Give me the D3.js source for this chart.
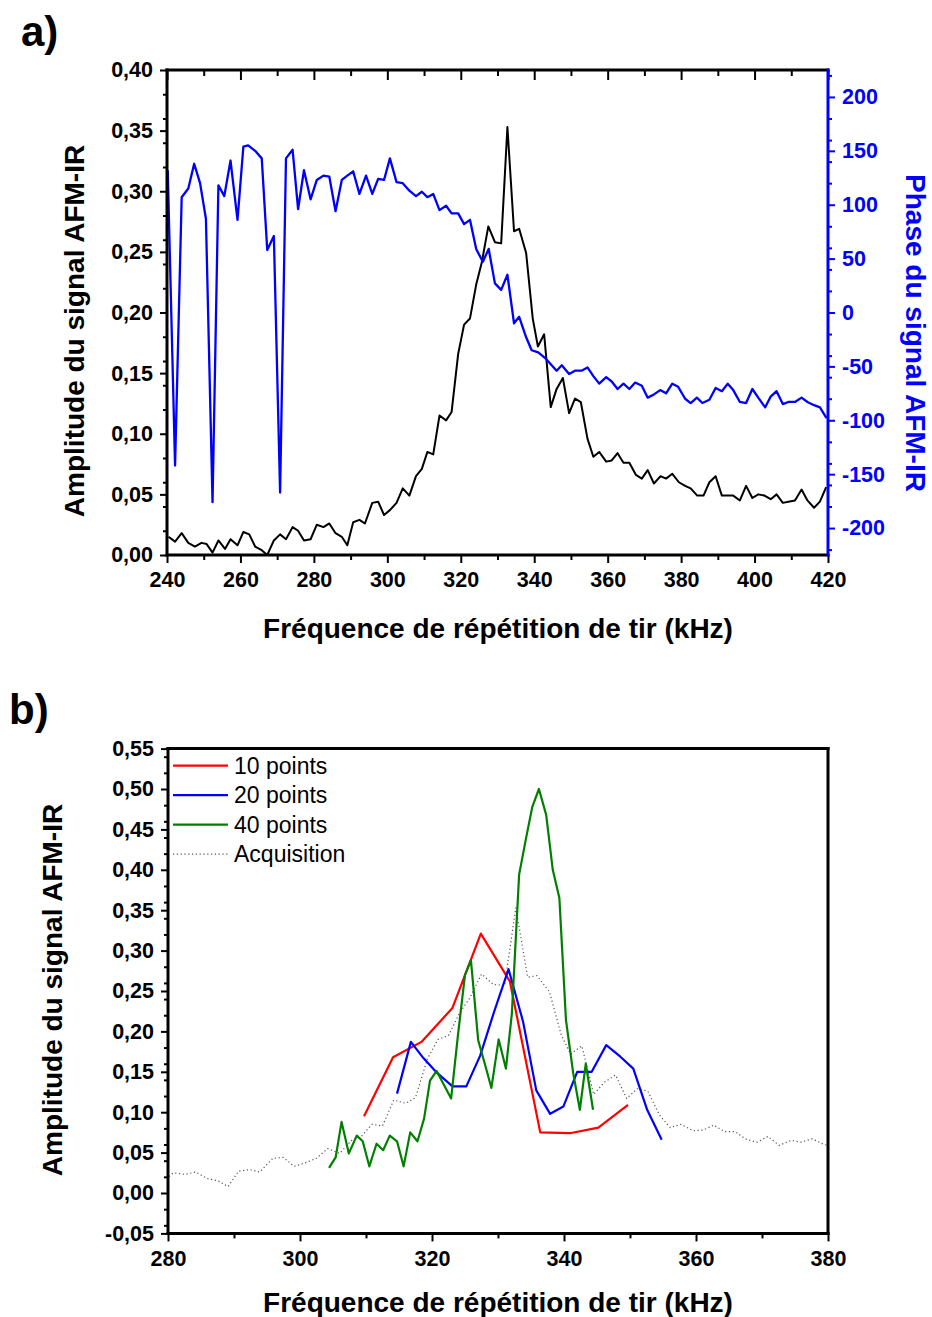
<!DOCTYPE html>
<html>
<head>
<meta charset="utf-8">
<script src="https://cdn.jsdelivr.net/npm/d3@7"></script>
<style>
  body { margin: 0; background: #fff; }
  svg { display: block; }
</style>
</head>
<body>
<div id="chart"></div>
<script>
// panel a : amplitude (black) and phase (blue) vs frequency, kHz
const amplitudeA = [
  [240.4, 0.015], [242.2, 0.011], [244.0, 0.018], [245.8, 0.010], [247.6, 0.007], [249.4, 0.010],
  [250.8, 0.009], [252.4, 0.002], [254.0, 0.012], [255.8, 0.005], [257.3, 0.013], [259.2, 0.008],
  [260.8, 0.019], [262.4, 0.017], [264.0, 0.007], [265.8, 0.004], [267.3, 0.000], [269.1, 0.012],
  [270.8, 0.017], [272.4, 0.013], [274.2, 0.023], [275.7, 0.020], [277.3, 0.012], [279.1, 0.013],
  [280.8, 0.025], [282.6, 0.023], [284.2, 0.026], [285.9, 0.018], [287.6, 0.015], [289.1, 0.008],
  [290.7, 0.027], [292.4, 0.029], [293.9, 0.026], [295.9, 0.043], [297.5, 0.044], [299.1, 0.033],
  [300.7, 0.037], [302.5, 0.043], [304.2, 0.055], [306.0, 0.049], [307.8, 0.065], [309.4, 0.071],
  [310.9, 0.085], [312.5, 0.083], [314.2, 0.115], [316.0, 0.111], [317.5, 0.118], [319.3, 0.166],
  [320.9, 0.190], [322.5, 0.195], [324.2, 0.223], [325.7, 0.241], [327.5, 0.271], [329.3, 0.258],
  [331.0, 0.257], [332.7, 0.353], [334.5, 0.267], [335.9, 0.269], [337.8, 0.249], [339.6, 0.195],
  [341.0, 0.172], [342.7, 0.182], [344.5, 0.122], [346.1, 0.137], [347.8, 0.146], [349.5, 0.117],
  [351.1, 0.129], [352.7, 0.126], [354.5, 0.096], [356.1, 0.081], [357.7, 0.085], [359.6, 0.077],
  [361.1, 0.078], [362.7, 0.084], [364.3, 0.076], [365.9, 0.076], [367.7, 0.066], [369.3, 0.063],
  [370.9, 0.070], [372.6, 0.059], [374.4, 0.065], [375.9, 0.063], [377.6, 0.067], [379.4, 0.060],
  [381.1, 0.057], [382.6, 0.055], [384.4, 0.049], [386.1, 0.049], [387.7, 0.060], [389.4, 0.065],
  [391.1, 0.049], [392.6, 0.049], [394.2, 0.049], [396.0, 0.045], [397.7, 0.057], [399.4, 0.047],
  [401.0, 0.050], [402.7, 0.049], [404.4, 0.046], [406.0, 0.050], [407.7, 0.043], [409.2, 0.044],
  [411.0, 0.045], [412.8, 0.054], [414.4, 0.045], [416.2, 0.039], [417.8, 0.044], [419.5, 0.056]
]

const phaseA = [
  [240.2, 132], [242.2, -142], [244.0, 107], [245.8, 115], [247.4, 138], [249.0, 120], [250.6, 87],
  [252.4, -176], [254.0, 118], [255.6, 108], [257.3, 141], [259.2, 86], [260.8, 154], [262.1, 155],
  [264.0, 150], [265.8, 143], [267.3, 58], [269.1, 71], [270.8, -167], [272.4, 143], [274.2, 151],
  [275.7, 96], [277.3, 132], [279.1, 105], [280.8, 123], [282.6, 127], [284.2, 126], [285.9, 94],
  [287.6, 123], [289.1, 127], [290.7, 131], [292.4, 110], [294.2, 127], [295.9, 110], [297.5, 124],
  [299.1, 123], [300.7, 143], [302.5, 121], [304.2, 120], [306.0, 113], [307.8, 108], [309.4, 112],
  [310.9, 107], [312.5, 110], [314.2, 95], [316.0, 99], [317.5, 92], [319.3, 92], [320.9, 82],
  [322.5, 86], [324.2, 59], [326.0, 47], [327.6, 59], [329.3, 27], [331.0, 21], [332.7, 35],
  [334.5, -10], [335.9, -4], [337.8, -23], [339.3, -35], [341.1, -37], [342.9, -42], [344.5, -48],
  [346.1, -54], [347.5, -49], [349.5, -57], [351.1, -54], [352.9, -54], [354.5, -51], [356.1, -59],
  [357.7, -66], [359.6, -60], [361.1, -64], [362.7, -71], [364.3, -66], [365.9, -71], [367.5, -65],
  [369.3, -68], [370.9, -79], [372.6, -76], [374.3, -72], [375.9, -75], [377.6, -66], [379.2, -69],
  [381.1, -80], [382.6, -84], [384.3, -79], [385.8, -84], [387.7, -81], [389.4, -70], [391.1, -73],
  [392.7, -66], [394.2, -72], [396.0, -83], [397.7, -84], [399.4, -71], [401.0, -79], [402.9, -88],
  [404.4, -78], [406.0, -73], [407.7, -85], [409.2, -83], [411.0, -83], [412.8, -79], [414.4, -83],
  [416.2, -86], [417.8, -88], [419.6, -98]
]

// panel b : reconstructed spectra, the acquisition is the panel a amplitude
const points10 = [
  [309.7, 0.095], [314.1, 0.168], [318.4, 0.187], [323.1, 0.229], [327.4, 0.321],
  [331.8, 0.262], [336.4, 0.075], [340.9, 0.074], [345.2, 0.081], [349.7, 0.109]
]

const points20 = [
  [314.7, 0.123], [316.8, 0.187], [318.7, 0.167], [320.6, 0.150], [323.1, 0.132],
  [325.2, 0.132], [327.3, 0.170], [329.4, 0.224], [331.6, 0.277], [333.8, 0.212],
  [335.8, 0.127], [337.9, 0.098], [339.9, 0.107], [342.0, 0.150], [344.2, 0.150],
  [346.4, 0.183], [348.5, 0.169], [350.5, 0.154], [352.6, 0.103], [354.8, 0.066]
]

const points40 = [
  [304.4, 0.031], [305.4, 0.044], [306.3, 0.088], [307.4, 0.049], [308.6, 0.071],
  [309.5, 0.064], [310.5, 0.033], [311.6, 0.061], [312.6, 0.053], [313.6, 0.071],
  [314.7, 0.064], [315.7, 0.033], [316.7, 0.075], [317.8, 0.064], [318.8, 0.092],
  [319.7, 0.139], [320.7, 0.151], [321.8, 0.134], [322.9, 0.117], [323.9, 0.193],
  [325.0, 0.270], [325.9, 0.288], [327.0, 0.189], [328.0, 0.160], [329.0, 0.130],
  [330.1, 0.190], [331.2, 0.154], [332.1, 0.222], [333.2, 0.394], [334.2, 0.437],
  [335.2, 0.478], [336.2, 0.500], [337.3, 0.468], [338.3, 0.400], [339.3, 0.365],
  [340.3, 0.214], [341.4, 0.148], [342.4, 0.103], [343.3, 0.160], [344.4, 0.103]
]

const legendLabels = ['10 points', '20 points', '40 points', 'Acquisition']

const W = 932
const H = 1317
const FONT = '"Liberation Sans", Arial, Helvetica, sans-serif'
const colors = {
  axis: '#000',
  amplitude: '#000',
  phase: '#0000ff',
  p10: '#ff0000',
  p20: '#0000ff',
  p40: '#008000',
  acquisition: '#555'
}

const comma = v => v.toFixed(2).replace('.', ',')
const minorOf = (scale, n, major) => scale.ticks(n).filter(v => !major.some(m => Math.abs(m - v) < 1e-9))

const svg = d3.select('#chart').append('svg')
  .attr('width', W)
  .attr('height', H)
  .style('font-family', FONT)

function styleAxis (g, color, fontSize = 21.5) {
  g.select('.domain').remove()
  g.selectAll('.tick line').attr('stroke', color).attr('stroke-width', 2)
  g.selectAll('.tick text')
    .attr('fill', color)
    .style('font-size', fontSize + 'px')
    .style('font-weight', 'bold')
}

function frameLine (x1, y1, x2, y2, color) {
  svg.append('line')
    .attr('x1', x1).attr('y1', y1).attr('x2', x2).attr('y2', y2)
    .attr('stroke', color)
    .attr('stroke-width', 3)
    .attr('stroke-linecap', 'square')
}

function title (text, x, y, rotate, { color = '#000', size = 28 } = {}) {
  svg.append('text')
    .attr('transform', `translate(${x},${y}) rotate(${rotate})`)
    .attr('text-anchor', 'middle')
    .attr('fill', color)
    .style('font-size', size + 'px')
    .style('font-weight', 'bold')
    .text(text)
}

function panelLabel (text, x, y) {
  svg.append('text')
    .attr('x', x).attr('y', y)
    .style('font-family', '"Liberation Sans Narrow", "Liberation Sans", Arial, sans-serif')
    .style('font-size', '42px')
    .style('font-weight', 'bold')
    .text(text)
}

// ---------- panel a ----------
const xA = d3.scaleLinear([240, 420], [167, 828])
const yA = d3.scaleLinear([0, 0.4], [555, 70])
const pA = d3.scaleLinear([-225, 225], [555, 70])

{
  const xMajor = xA.ticks(9)
  const yMajor = yA.ticks(8)
  const pMajor = pA.ticks(9)

  svg.append('g').attr('transform', `translate(0,${yA(0)})`)
    .call(d3.axisBottom(xA).tickValues(minorOf(xA, 18, xMajor)).tickSize(5).tickFormat(''))
    .call(g => styleAxis(g, colors.axis))
  svg.append('g').attr('transform', `translate(0,${yA(0)})`)
    .call(d3.axisBottom(xA).tickValues(xMajor).tickSize(8).tickPadding(9).tickFormat(d3.format('d')))
    .call(g => styleAxis(g, colors.axis))

  svg.append('g').attr('transform', `translate(0,${yA(0.4)})`)
    .call(d3.axisTop(xA).tickValues(minorOf(xA, 18, xMajor)).tickSize(-6).tickFormat(''))
    .call(g => styleAxis(g, colors.axis))
  svg.append('g').attr('transform', `translate(0,${yA(0.4)})`)
    .call(d3.axisTop(xA).tickValues(xMajor).tickSize(-10).tickFormat(''))
    .call(g => styleAxis(g, colors.axis))

  svg.append('g').attr('transform', `translate(${xA(240)},0)`)
    .call(d3.axisLeft(yA).tickValues(minorOf(yA, 16, yMajor)).tickSize(4).tickFormat(''))
    .call(g => styleAxis(g, colors.axis))
  svg.append('g').attr('transform', `translate(${xA(240)},0)`)
    .call(d3.axisLeft(yA).tickValues(yMajor).tickSize(7).tickPadding(7).tickFormat(comma))
    .call(g => styleAxis(g, colors.axis))

  svg.append('g').attr('transform', `translate(${xA(420)},0)`)
    .call(d3.axisRight(pA).tickValues(minorOf(pA, 18, pMajor)).tickSize(4).tickFormat(''))
    .call(g => styleAxis(g, colors.phase))
  svg.append('g').attr('transform', `translate(${xA(420)},0)`)
    .call(d3.axisRight(pA).tickValues(pMajor).tickSize(7).tickPadding(7).tickFormat(d => String(d)))
    .call(g => styleAxis(g, colors.phase))

  const ampLine = d3.line().x(d => xA(d[0])).y(d => yA(d[1]))
  const phaseLine = d3.line().x(d => xA(d[0])).y(d => pA(d[1]))

  svg.append('path').datum(amplitudeA)
    .attr('d', ampLine)
    .attr('fill', 'none')
    .attr('stroke', colors.amplitude)
    .attr('stroke-width', 2)
    .attr('stroke-linejoin', 'round')

  svg.append('path').datum(phaseA)
    .attr('d', phaseLine)
    .attr('fill', 'none')
    .attr('stroke', colors.phase)
    .attr('stroke-width', 2.3)
    .attr('stroke-linejoin', 'round')

  frameLine(xA(240), yA(0.4), xA(420), yA(0.4), colors.axis)
  frameLine(xA(240), yA(0.4), xA(240), yA(0), colors.axis)
  frameLine(xA(240), yA(0), xA(420), yA(0), colors.axis)
  frameLine(xA(420), yA(0.4), xA(420), yA(0), colors.phase)

  title('Amplitude du signal AFM-IR', 84, 331, -90)
  title('Phase du signal AFM-IR', 906, 333, 90, { color: colors.phase })
  title('Fréquence de répétition de tir (kHz)', 498, 638, 0)
  panelLabel('a)', 21, 46)
}

// ---------- panel b ----------
const xB = d3.scaleLinear([280, 380], [168, 828])
const yB = d3.scaleLinear([-0.05, 0.55], [1233.4, 748.6])

{
  const xMajor = xB.ticks(5)
  const yMajor = yB.ticks(12)

  svg.append('g').attr('transform', `translate(0,${yB(-0.05)})`)
    .call(d3.axisBottom(xB).tickValues(minorOf(xB, 10, xMajor)).tickSize(5).tickFormat(''))
    .call(g => styleAxis(g, colors.axis))
  svg.append('g').attr('transform', `translate(0,${yB(-0.05)})`)
    .call(d3.axisBottom(xB).tickValues(xMajor).tickSize(8).tickPadding(9).tickFormat(d3.format('d')))
    .call(g => styleAxis(g, colors.axis))

  svg.append('g').attr('transform', `translate(${xB(280)},0)`)
    .call(d3.axisLeft(yB).tickValues(minorOf(yB, 24, yMajor)).tickSize(4).tickFormat(''))
    .call(g => styleAxis(g, colors.axis))
  svg.append('g').attr('transform', `translate(${xB(280)},0)`)
    .call(d3.axisLeft(yB).tickValues(yMajor).tickSize(7).tickPadding(7).tickFormat(comma))
    .call(g => styleAxis(g, colors.axis))

  svg.append('clipPath').attr('id', 'clipB')
    .append('rect')
    .attr('x', xB(280)).attr('y', yB(0.55))
    .attr('width', xB(380) - xB(280)).attr('height', yB(-0.05) - yB(0.55))

  const line = d3.line().x(d => xB(d[0])).y(d => yB(d[1]))
  const plot = svg.append('g').attr('clip-path', 'url(#clipB)')

  const series = [
    { data: amplitudeA, color: colors.acquisition, width: 1.2, dash: '1.2,2.6' },
    { data: points10, color: colors.p10, width: 2.2 },
    { data: points20, color: colors.p20, width: 2.2 },
    { data: points40, color: colors.p40, width: 2.2 }
  ]

  series.forEach(s => {
    plot.append('path').datum(s.data)
      .attr('d', line)
      .attr('fill', 'none')
      .attr('stroke', s.color)
      .attr('stroke-width', s.width)
      .attr('stroke-dasharray', s.dash || null)
      .attr('stroke-linejoin', 'round')
  })

  // legend, in the order 10 / 20 / 40 / acquisition
  const legendSeries = [series[1], series[2], series[3], series[0]]
  const legend = svg.append('g').attr('transform', `translate(${xB(280) + 5},${yB(0.55) + 17})`)
  legendSeries.forEach((s, i) => {
    const row = legend.append('g').attr('transform', `translate(0,${i * 29.5})`)
    row.append('line')
      .attr('x1', 0).attr('x2', 55)
      .attr('stroke', s.color)
      .attr('stroke-width', s.width)
      .attr('stroke-dasharray', s.dash || null)
    row.append('text')
      .attr('x', 61).attr('dy', '0.35em')
      .style('font-size', '23px')
      .text(legendLabels[i])
  })

  frameLine(xB(280), yB(0.55), xB(380), yB(0.55), colors.axis)
  frameLine(xB(280), yB(0.55), xB(280), yB(-0.05), colors.axis)
  frameLine(xB(280), yB(-0.05), xB(380), yB(-0.05), colors.axis)
  frameLine(xB(380), yB(0.55), xB(380), yB(-0.05), colors.axis)

  title('Amplitude du signal AFM-IR', 62, 990, -90)
  title('Fréquence de répétition de tir (kHz)', 498, 1312, 0)
  panelLabel('b)', 9, 724)
}
</script>
</body>
</html>
